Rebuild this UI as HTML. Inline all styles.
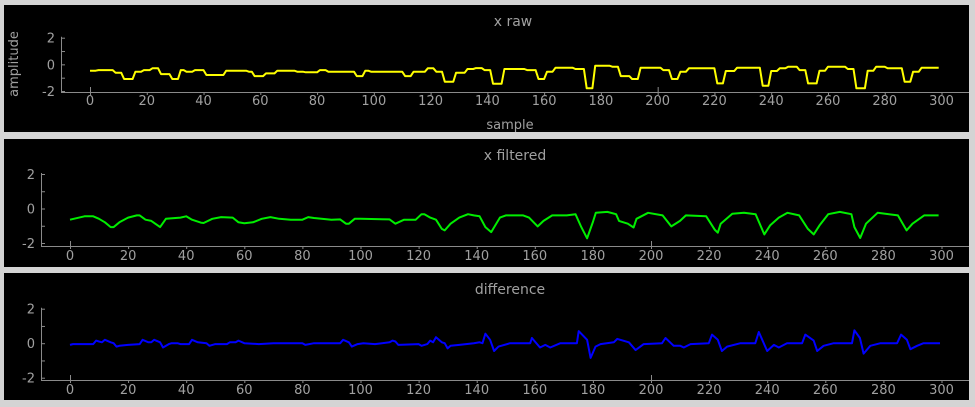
<!DOCTYPE html>
<html><head><meta charset="utf-8"><style>
html,body{margin:0;padding:0;background:#d4d4d4;}
svg{display:block;font-family:"DejaVu Sans","Liberation Sans",sans-serif;}
</style></head><body>
<svg id="chart" width="975" height="407" viewBox="0 0 975 407"></svg>
<script>
// Raw signal: step start samples and values
const rawStepStarts=[0,3,9,12,16,19,22,25,29,32,34,37,41,48,56,58,62,66,73,76,81,84,94,97,99,111,114,119,122,125,129,133,136,139,142,146,154,158,161,164,171,175,178,184,187,191,194,202,205,208,211,221,224,228,237,240,243,246,250,253,257,260,267,270,274,277,281,287,290,293];
const rawStepValues=[-0.48,-0.43,-0.63,-1.1,-0.55,-0.43,-0.3,-0.73,-1.1,-0.43,-0.55,-0.43,-0.8,-0.48,-0.55,-0.88,-0.68,-0.48,-0.55,-0.6,-0.43,-0.55,-0.88,-0.48,-0.55,-0.88,-0.55,-0.3,-0.55,-1.3,-0.63,-0.35,-0.28,-0.43,-1.45,-0.35,-0.43,-1.1,-0.55,-0.25,-0.35,-1.8,-0.1,-0.18,-0.88,-1.1,-0.25,-0.43,-1.1,-0.55,-0.3,-1.43,-0.5,-0.25,-1.6,-0.5,-0.3,-0.18,-0.43,-1.43,-0.48,-0.18,-0.35,-1.8,-0.48,-0.18,-0.3,-1.3,-0.55,-0.25];
const filtSamples=[0,5,8,10,12,14,15,17,20,23,24,26,28,31,33,38,40,42,45,46,49,52,56,58,60,63,66,69,72,76,80,82,84,90,93,95,96,98,100,110,112,115,119,121,122,124,126,128,129,131,134,137,139,141,143,145,148,150,156,158,161,163,166,171,174,176,178,180,181,185,188,189,192,194,195,199,204,207,210,212,219,222,223,224,228,232,236,239,241,244,247,251,254,256,258,261,265,269,270,272,274,278,285,288,290,294,299];
const filtValues=[-0.65,-0.45,-0.45,-0.6,-0.8,-1.08,-1.08,-0.8,-0.53,-0.4,-0.4,-0.65,-0.72,-1.08,-0.6,-0.53,-0.45,-0.65,-0.82,-0.84,-0.6,-0.5,-0.53,-0.8,-0.85,-0.8,-0.6,-0.5,-0.6,-0.65,-0.65,-0.5,-0.55,-0.65,-0.63,-0.88,-0.88,-0.6,-0.6,-0.63,-0.88,-0.65,-0.65,-0.33,-0.33,-0.53,-0.65,-1.18,-1.27,-0.88,-0.53,-0.33,-0.4,-0.45,-1.08,-1.37,-0.53,-0.4,-0.4,-0.53,-1.04,-0.72,-0.4,-0.4,-0.33,-1.08,-1.73,-0.78,-0.25,-0.2,-0.33,-0.72,-0.88,-1.1,-0.6,-0.25,-0.4,-1.04,-0.72,-0.4,-0.45,-1.24,-1.4,-0.88,-0.3,-0.25,-0.33,-1.5,-0.98,-0.53,-0.25,-0.4,-1.18,-1.5,-0.98,-0.33,-0.2,-0.33,-1.08,-1.71,-0.88,-0.25,-0.4,-1.27,-0.88,-0.4,-0.4];
const diffSamples=[0,1,8,9,10,11,12,14,15,16,17,20,24,25,27,28,29,31,32,34,35,37,38,41,42,44,47,48,50,54,55,57,58,60,65,70,80,81,84,93,94,96,97,99,101,105,110,111,112,113,120,121,123,124,125,126,128,129,130,131,134,139,141,142,143,144.6,146,147.5,151.5,158.4,159,161.8,163.6,165.3,168.8,174.5,175.1,178,179.2,180.9,182.6,187.2,188.4,192.4,194.7,197.5,203.8,205,207.8,210.1,211.3,213.6,219.9,221,223,224.4,226.2,230.8,235.9,237.1,240,242.3,244,246.8,252,253.1,256,257.2,259.4,262.9,269.2,270,271.9,273.2,275.5,279,284.7,286.1,288.1,289.3,291.6,293.8,299.5];
const diffValues=[-0.1,-0.05,-0.05,0.15,0.1,0.05,0.2,0.05,0,-0.2,-0.15,-0.1,-0.05,0.2,0.05,0.05,0.2,0.05,-0.25,-0.05,0,0,-0.05,-0.05,0.2,0.05,0,-0.15,-0.05,-0.05,0.05,0.05,0.15,0,-0.05,0,0,-0.1,0,0,0.2,0.05,-0.2,-0.05,0,-0.05,0.05,0.15,0.1,-0.1,-0.05,-0.15,-0.05,0.15,0.05,0.35,0.05,0,-0.3,-0.15,-0.1,0,0.05,0,0.55,0.2,-0.45,-0.2,0,0,0.3,-0.25,-0.1,-0.25,0,0,0.7,0.2,-0.85,-0.2,-0.05,0.05,0.25,0.05,-0.4,-0.05,0,0.3,-0.15,-0.15,-0.25,-0.05,0,0.5,0.2,-0.45,-0.2,0,0,0.65,-0.45,-0.1,-0.25,0,0,0.5,0.15,-0.45,-0.15,0,0,0.75,0.3,-0.6,-0.15,0,0,0.5,0.2,-0.35,-0.15,0,0];
const xTickLabels=[0,20,40,60,80,100,120,140,160,180,200,220,240,260,280,300];
const yTickLabels=[2,0,-2];

const NS="http://www.w3.org/2000/svg";
const svg=document.getElementById('chart');
function mk(tag,attrs,parent){const e=document.createElementNS(NS,tag);for(const k in attrs)e.setAttribute(k,attrs[k]);(parent||svg).appendChild(e);return e;}

const rawX=[],rawY=[];
for(let s=0;s<300;s++){let v=rawStepValues[0];for(let i=0;i<rawStepStarts.length;i++){if(rawStepStarts[i]<=s)v=rawStepValues[i];}rawX.push(s);rawY.push(v);}

const panels=[
 {name:'raw',box:[4,5,965,127],ax:61,x0:90,x300:941.5,y2:37.7,ym2:91,axY:92,lab:100,title:'x raw',ty:21,tx:513,color:'#ffff00',xs:rawX,ys:rawY,xlabel:true},
 {name:'filtered',box:[4,139,965,128],ax:41,x0:70,x300:941.5,y2:174,ym2:243,axY:246,lab:255,title:'x filtered',ty:155,tx:515,color:'#00ee00',xs:filtSamples,ys:filtValues},
 {name:'difference',box:[4,273,965,127],ax:41,x0:70,x300:941.5,y2:308.7,ym2:377.7,axY:380,lab:389,title:'difference',ty:289,tx:510,color:'#0000ff',xs:diffSamples,ys:diffValues}
];
panels.forEach(p=>{
  const g=mk('g',{});
  
  
  const r=mk('rect',{x:p.box[0],y:p.box[1],width:p.box[2],height:p.box[3],fill:'#000'},g);
  
  
  const xs=s=>p.x0+(p.x300-p.x0)*s/300;
  const ys=v=>p.ym2+(p.y2-p.ym2)*(v+2)/4;
  const t=mk('text',{x:p.tx,y:p.ty+5,fill:'#a0a0a0','font-size':14,'text-anchor':'middle'},g);
  t.textContent=p.title;
  
  
  const ya=mk('line',{x1:p.ax+0.5,x2:p.ax+0.5,y1:p.y2-1,y2:p.axY,stroke:'#8a8a8a'},g);
  
  
  const xa=mk('line',{x1:p.ax,x2:969,y1:p.axY+0.5,y2:p.axY+0.5,stroke:'#8a8a8a'},g);
  
  
  [2,1,0,-1,-2].forEach(v=>{mk('line',{x1:p.ax,x2:p.ax+4,y1:ys(v)+0.5,y2:ys(v)+0.5,stroke:'#8a8a8a'},g);});
  yTickLabels.forEach(v=>{
    const tl=mk('text',{x:p.ax-6,y:ys(v)+5,fill:'#a0a0a0','font-size':13,'text-anchor':'end'},g);
    tl.textContent=v;
    
    
  });
  xTickLabels.forEach(v=>{
    mk('line',{x1:xs(v)+0.5,x2:xs(v)+0.5,y1:p.axY,y2:p.axY+3,stroke:'#8a8a8a'},g);
    if(v===0||v===200)mk('line',{x1:xs(v)+0.5,x2:xs(v)+0.5,y1:p.axY-5,y2:p.axY,stroke:'#8a8a8a'},g);
    const tl=mk('text',{x:xs(v),y:p.lab+5,fill:'#a0a0a0','font-size':13,'text-anchor':'middle'},g);
    tl.textContent=v;
    
    
  });
  if(p.xlabel){
    const xl=mk('text',{x:510,y:129,fill:'#a0a0a0','font-size':13,'text-anchor':'middle'},g);
    xl.textContent='sample';
    
    
    const yl=mk('text',{x:0,y:0,fill:'#a0a0a0','font-size':13,'text-anchor':'middle',transform:'translate(18,64) rotate(-90)'},g);
    yl.textContent='amplitude';
    
    
  }
  let d='';
  p.xs.forEach((s,i)=>{d+=(i?'L':'M')+xs(s).toFixed(1)+' '+ys(p.ys[i]).toFixed(1);});
  const ln=mk('path',{d:d,fill:'none',stroke:p.color,'stroke-width':2,'stroke-linejoin':'round'},g);
  
  
});
</script>
</body></html>
